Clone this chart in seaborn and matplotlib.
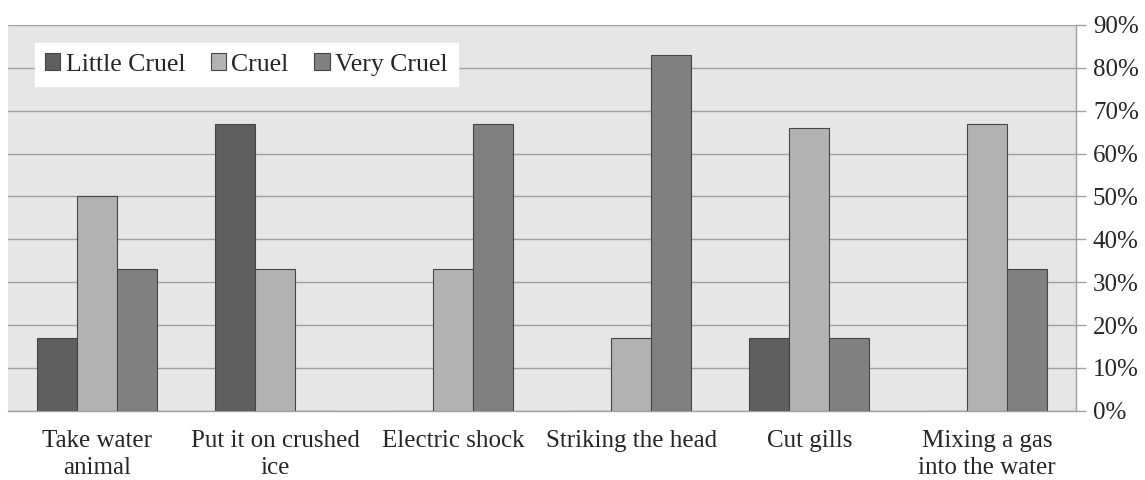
import pandas as pd
import numpy as np
import seaborn as sns
import matplotlib.pyplot as plt
from matplotlib.ticker import PercentFormatter, FixedLocator

# data (percent of respondents)
methods = ["Take water\nanimal", "Put it on crushed\nice", "Electric shock",
           "Striking the head", "Cut gills", "Mixing a gas\ninto the water"]
levels = ["Little Cruel", "Cruel", "Very Cruel"]
little_cruel = [17, 67, 0, 0, 17, 0]
cruel = [50, 33, 33, 17, 66, 67]
very_cruel = [33, 0, 67, 83, 17, 33]

df = pd.DataFrame({
    "method": methods * 3,
    "level": [levels[0]] * 6 + [levels[1]] * 6 + [levels[2]] * 6,
    "pct": little_cruel + cruel + very_cruel,
})

sns.set_theme(style="white")
plt.rcParams["font.family"] = ["Liberation Serif", "DejaVu Serif"]

fig = plt.figure(figsize=(11.45, 4.8), dpi=100)
ax = fig.add_axes([0.007, 0.144, 0.933, 0.804])
ax.set_facecolor("#e6e6e6")

palette = {"Little Cruel": "#5f5f5f", "Cruel": "#b2b2b2", "Very Cruel": "#808080"}
sns.barplot(data=df, x="method", y="pct", hue="level", palette=palette,
            width=0.675, edgecolor="#454545", linewidth=0.8, saturation=1,
            ax=ax, zorder=3)

ax.set_ylim(0, 90)
ax.set_xlim(-0.5, 5.5)
ax.yaxis.tick_right()
ax.set_yticks(np.arange(0, 91, 10))
ax.yaxis.set_major_formatter(PercentFormatter(decimals=0))
ax.grid(axis="y", color="#a0a0a0", linewidth=1, zorder=0)
ax.set_axisbelow(True)

ax.tick_params(axis="y", which="major", direction="out", length=7, width=1,
               color="#a0a0a0", labelsize=18, pad=5, right=True, left=False)
ax.tick_params(axis="x", which="major", length=0, labelsize=18, pad=14)
ax.xaxis.set_minor_locator(FixedLocator(np.arange(-0.5, 6, 1)))
ax.tick_params(axis="x", which="minor", direction="out", length=8, width=1,
               color="#a0a0a0")
for lbl in ax.get_xticklabels():
    lbl.set_linespacing(1.25)

for side in ["left", "top"]:
    ax.spines[side].set_visible(False)
for side in ["right", "bottom"]:
    ax.spines[side].set_color("#a0a0a0")
    ax.spines[side].set_linewidth(1)

ax.set_xlabel("")
ax.set_ylabel("")

leg = ax.legend(loc="upper left", bbox_to_anchor=(0.025, 0.953), ncol=3,
                frameon=True, fancybox=False, framealpha=1, fontsize=18.5,
                handlelength=0.6, handleheight=0.6, handletextpad=0.2,
                columnspacing=1.0, borderpad=0.4, borderaxespad=0)
leg.get_frame().set_facecolor("white")
leg.get_frame().set_edgecolor("white")
leg.set_zorder(5)

fig.savefig("out.png", dpi=100)
